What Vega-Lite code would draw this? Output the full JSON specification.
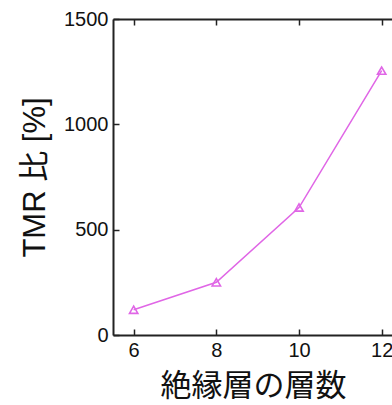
{
  "$schema": "https://vega.github.io/schema/vega-lite/v6.json",
  "autosize": "none",
  "width": 279,
  "height": 316,
  "padding": {"left": 113, "top": 19, "right": 0, "bottom": 70},
  "background": "white",
  "config": {
    "view": {"stroke": null},
    "axis": {
      "domainColor": "#222222",
      "domainWidth": 2,
      "tickColor": "#222222",
      "tickWidth": 1.5,
      "grid": false,
      "labelFont": "Liberation Sans",
      "labelFontSize": 20,
      "labelColor": "#111111",
      "titleFont": "Liberation Sans, Noto Sans CJK JP",
      "titleFontWeight": "normal",
      "titleColor": "#111111"
    }
  },
  "data": {
    "values": [
      {"layers": 6, "tmr": 120},
      {"layers": 8, "tmr": 250},
      {"layers": 10, "tmr": 605},
      {"layers": 12, "tmr": 1255}
    ]
  },
  "layer": [
    {
      "mark": {"type": "line", "color": "#e066e6", "strokeWidth": 1.5, "point": {"shape": "triangle-up", "filled": false, "size": 70, "strokeWidth": 1.6, "color": "#e066e6"}},
      "encoding": {
        "x": {"field": "layers", "type": "quantitative", "scale": {"domain": [5.5, 12.25], "nice": false, "zero": false},
          "axis": {"orient": "bottom", "values": [6, 8, 10, 12], "tickSize": -6, "labelPadding": 11, "title": "絶縁層の層数", "titleFontSize": 31, "titlePadding": 11, "titleX": 140}},
        "y": {"field": "tmr", "type": "quantitative", "scale": {"domain": [0, 1500], "nice": false},
          "axis": {"values": [0, 500, 1000, 1500], "format": "d", "tickSize": -6, "labelPadding": 11, "title": "TMR 比 [%]", "titleFontSize": 31, "titlePadding": 12}}
      }
    },
    {
      "mark": {"type": "point", "opacity": 0},
      "encoding": {
        "x": {"field": "layers", "type": "quantitative",
          "axis": {"orient": "top", "values": [6, 8, 10, 12], "tickSize": -6, "labels": false, "title": null}}
      }
    }
  ],
  "resolve": {"axis": {"x": "independent"}}
}
